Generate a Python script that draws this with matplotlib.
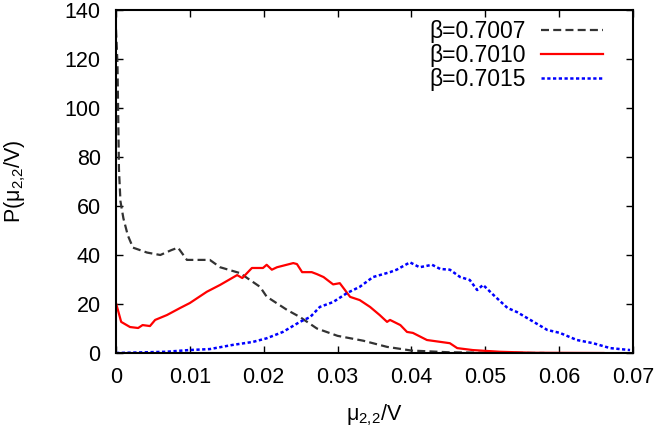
import matplotlib
matplotlib.use('Agg')
import matplotlib.pyplot as plt

plt.rcParams['font.family'] = ['Liberation Sans', 'DejaVu Sans']
plt.rcParams['mathtext.default'] = 'regular'

# beta = 0.7007 (black dashed)
x_7007 = [0, 0.0002, 0.0004, 0.0006, 0.001, 0.0016, 0.0023, 0.0042, 0.006, 0.0075,
          0.0084, 0.0096, 0.0127, 0.0141, 0.0168, 0.0195, 0.0204, 0.0232, 0.0249,
          0.0272, 0.030, 0.0335, 0.0367, 0.040, 0.045, 0.050, 0.058]
y_7007 = [132, 118, 75, 62, 55, 48, 43, 41, 40, 42, 43, 38, 38, 35, 32.6, 27, 23,
          17.5, 14.7, 10, 7, 5, 2.5, 1, 0.3, 0.1, 0]

# beta = 0.7010 (red solid)
x_7010 = [0, 0.0007, 0.0019, 0.003, 0.0036, 0.0046, 0.0053, 0.0069, 0.0087, 0.010,
          0.0123, 0.0141, 0.0164, 0.0171, 0.0184, 0.0199, 0.0204, 0.0211, 0.0218,
          0.024, 0.0245, 0.0252, 0.0265, 0.0272, 0.0281, 0.0294, 0.0303, 0.0317,
          0.033, 0.0344, 0.0357, 0.0367, 0.0371, 0.0385, 0.0394, 0.0402, 0.0421,
          0.0452, 0.0462, 0.0483, 0.052, 0.0565, 0.066]
y_7010 = [20.4, 12.7, 10.6, 10.2, 11.4, 11, 13.5, 15.5, 18.4, 20.4, 25, 27.8, 31.8,
          30.6, 34.7, 34.7, 36, 34, 35, 36.7, 36.3, 33, 33, 32.2, 31, 28, 28.5, 22.9,
          21.6, 18.8, 15.5, 12.7, 13.5, 11.4, 8.6, 8.2, 5.3, 4, 2, 1.2, 0.5, 0.1, 0]

# beta = 0.7015 (blue dotted)
x_7015 = [0, 0.0068, 0.0099, 0.0127, 0.0158, 0.0185, 0.0204, 0.0226, 0.0249, 0.0263,
          0.0276, 0.0294, 0.0313, 0.033, 0.0348, 0.0371, 0.038, 0.0398, 0.0411,
          0.0428, 0.0439, 0.0452, 0.0466, 0.0479, 0.0489, 0.0497, 0.0511, 0.053,
          0.0543, 0.0561, 0.0584, 0.0601, 0.0624, 0.0646, 0.0669, 0.0696]
y_7015 = [0, 0.5, 1.2, 1.6, 3.3, 4.5, 6, 8.6, 12.7, 14.7, 18.8, 20.8, 24.5, 27, 31,
          33, 34, 37, 35, 36, 34.3, 34, 31, 29.8, 25.7, 27.8, 23.7, 18.4, 16.7, 13.5,
          9.4, 8.2, 5.3, 4, 2, 1.2]

xticks = [0, 0.01, 0.02, 0.03, 0.04, 0.05, 0.06, 0.07]
xtick_labels = ['0', '0.01', '0.02', '0.03', '0.04', '0.05', '0.06', '0.07']
yticks = [0, 20, 40, 60, 80, 100, 120, 140]

fig = plt.figure(figsize=(6.59, 4.33), dpi=100)
ax = fig.add_axes([116 / 659, 1 - 353 / 433, 517 / 659, 343 / 433])

ax.plot(x_7007, y_7007, color='#333333', lw=1.6, dashes=(3.6, 1.9), label='β=0.7007')
ax.plot(x_7010, y_7010, color='#ff0000', lw=1.6, label='β=0.7010')
ax.plot(x_7015, y_7015, color='#0000ff', lw=1.8, dashes=(1.3, 1.0), label='β=0.7015')

ax.set_xlim(0, 0.07)
ax.set_ylim(0, 140)
ax.set_xticks(xticks)
ax.set_xticklabels(xtick_labels)
ax.set_yticks(yticks)
ax.tick_params(direction='in', top=True, right=True, labelsize=15.5, length=5, width=1)
ax.tick_params(axis='y', pad=11)
ax.tick_params(axis='x', pad=10)
for s in ax.spines.values():
    s.set_linewidth(1.5)

ax.set_xlabel('μ$_{2{,}2}$/V', fontsize=15.5)
ax.xaxis.set_label_coords(0.5, -0.145)
ax.set_ylabel('P(μ$_{2{,}2}$/V)', fontsize=15.5)
ax.yaxis.set_label_coords(-0.17, 0.5)

leg = ax.legend(loc='upper right', bbox_to_anchor=(0.942, 0.972), frameon=False,
                fontsize=16.5, markerfirst=False, handlelength=2.7, borderaxespad=0,
                borderpad=0, labelspacing=0.06, handletextpad=0.65)
for t in leg.get_texts():
    t.set_ha('right')

fig.savefig('out.png', dpi=100)
